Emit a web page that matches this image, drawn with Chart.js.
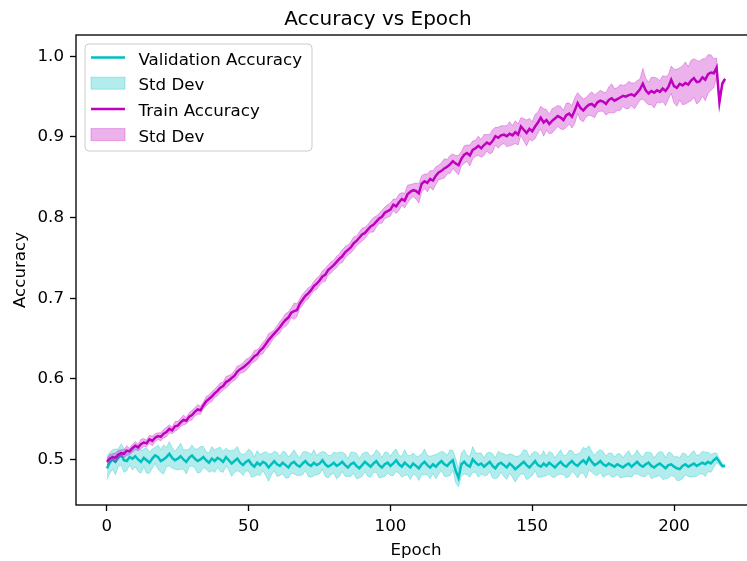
<!DOCTYPE html>
<html>
<head>
<meta charset="utf-8">
<script src="https://cdn.jsdelivr.net/npm/chart.js@4.4.1/dist/chart.umd.min.js"></script>
<style>
  html, body { margin: 0; padding: 0; background: #fff; }
  #wrap { width: 747px; height: 561px; overflow: hidden; position: relative; }
  canvas { display: block; }
</style>
</head>
<body>
<div id="wrap"><canvas id="c" width="832" height="561"></canvas></div>
<script>
// ---------- DATA ----------
const chartTitle = "Accuracy vs Epoch";
const xTitle = "Epoch";
const yTitle = "Accuracy";
const seriesLabels = ["Validation Accuracy", "Std Dev", "Train Accuracy", "Std Dev"];
const xTicks = [0, 50, 100, 150, 200];
const yTicks = [0.5, 0.6, 0.7, 0.8, 0.9, 1.0];

const valMean = [
  0.489,0.496,0.500,0.497,0.502,0.506,0.499,0.498,0.503,0.501,
  0.504,0.500,0.497,0.502,0.499,0.496,0.501,0.505,0.503,0.498,
  0.500,0.503,0.507,0.502,0.499,0.501,0.504,0.500,0.497,0.502,
  0.505,0.501,0.498,0.500,0.503,0.499,0.496,0.501,0.498,0.502,
  0.500,0.497,0.503,0.499,0.495,0.498,0.501,0.496,0.493,0.497,
  0.499,0.494,0.491,0.496,0.493,0.497,0.495,0.490,0.494,0.498,
  0.494,0.492,0.496,0.493,0.490,0.495,0.497,0.493,0.491,0.495,
  0.498,0.494,0.492,0.496,0.493,0.495,0.499,0.494,0.491,0.493,
  0.496,0.492,0.494,0.497,0.493,0.490,0.494,0.496,0.492,0.489,
  0.493,0.497,0.494,0.491,0.495,0.498,0.493,0.490,0.494,0.496,
  0.492,0.495,0.499,0.494,0.491,0.496,0.493,0.490,0.495,0.492,
  0.489,0.494,0.497,0.493,0.490,0.494,0.491,0.495,0.498,0.494,
  0.492,0.496,0.499,0.486,0.477,0.494,0.497,0.493,0.491,0.500,
  0.496,0.493,0.495,0.491,0.494,0.497,0.492,0.489,0.494,0.496,
  0.493,0.490,0.495,0.492,0.488,0.491,0.494,0.497,0.493,0.490,
  0.494,0.498,0.493,0.491,0.495,0.492,0.496,0.493,0.490,0.494,
  0.497,0.493,0.491,0.495,0.498,0.494,0.492,0.496,0.499,0.495,
  0.502,0.497,0.493,0.495,0.498,0.494,0.492,0.495,0.493,0.491,
  0.494,0.492,0.490,0.493,0.495,0.491,0.494,0.497,0.493,0.491,
  0.494,0.496,0.492,0.490,0.493,0.495,0.492,0.489,0.493,0.494,
  0.491,0.489,0.488,0.492,0.494,0.491,0.493,0.495,0.492,0.494,
  0.496,0.494,0.497,0.495,0.499,0.502,0.497,0.492,0.492
];
const valStd = [
  0.014,0.013,0.012,0.016,0.011,0.013,0.015,0.012,0.010,0.014,
  0.013,0.015,0.014,0.011,0.016,0.013,0.012,0.010,0.015,0.014,
  0.018,0.012,0.015,0.013,0.011,0.014,0.016,0.012,0.015,0.011,
  0.013,0.012,0.015,0.016,0.013,0.011,0.012,0.015,0.014,0.012,
  0.015,0.013,0.011,0.012,0.016,0.014,0.015,0.012,0.013,0.011,
  0.014,0.016,0.012,0.015,0.013,0.011,0.015,0.017,0.013,0.012,
  0.015,0.012,0.014,0.016,0.013,0.012,0.015,0.013,0.011,0.014,
  0.012,0.015,0.014,0.016,0.012,0.013,0.011,0.015,0.014,0.012,
  0.013,0.016,0.015,0.012,0.014,0.011,0.015,0.013,0.016,0.012,
  0.014,0.012,0.015,0.013,0.011,0.014,0.016,0.012,0.015,0.013,
  0.012,0.015,0.014,0.011,0.013,0.016,0.012,0.015,0.013,0.012,
  0.015,0.013,0.016,0.012,0.014,0.011,0.015,0.013,0.012,0.015,
  0.013,0.016,0.012,0.015,0.011,0.014,0.015,0.012,0.013,0.016,
  0.012,0.015,0.013,0.011,0.014,0.012,0.015,0.013,0.016,0.012,
  0.014,0.015,0.012,0.014,0.016,0.013,0.012,0.015,0.018,0.013,
  0.014,0.012,0.015,0.013,0.016,0.012,0.014,0.015,0.012,0.013,
  0.015,0.012,0.014,0.016,0.013,0.012,0.015,0.013,0.016,0.018,
  0.015,0.013,0.012,0.015,0.014,0.016,0.012,0.013,0.015,0.012,
  0.013,0.015,0.012,0.014,0.016,0.013,0.012,0.015,0.013,0.012,
  0.015,0.013,0.016,0.012,0.014,0.015,0.017,0.013,0.016,0.014,
  0.012,0.015,0.014,0.016,0.013,0.012,0.015,0.016,0.013,0.012,
  0.014,0.015,0.012,0.011,0.009,0.006,0.004,0.002,0.001
];
const trainMean = [
  0.497,0.501,0.503,0.502,0.506,0.508,0.507,0.511,0.510,0.514,
  0.517,0.515,0.519,0.521,0.520,0.525,0.523,0.527,0.529,0.528,
  0.532,0.534,0.538,0.536,0.541,0.542,0.546,0.549,0.548,0.553,
  0.555,0.559,0.562,0.561,0.567,0.572,0.575,0.578,0.582,0.585,
  0.589,0.591,0.596,0.598,0.601,0.604,0.609,0.612,0.614,0.617,
  0.620,0.624,0.628,0.630,0.635,0.638,0.643,0.648,0.652,0.656,
  0.660,0.664,0.669,0.673,0.676,0.682,0.684,0.685,0.693,0.698,
  0.703,0.706,0.710,0.715,0.718,0.722,0.727,0.729,0.735,0.738,
  0.741,0.745,0.749,0.752,0.757,0.760,0.763,0.768,0.771,0.775,
  0.779,0.781,0.785,0.789,0.791,0.795,0.799,0.801,0.806,0.808,
  0.810,0.816,0.814,0.819,0.823,0.821,0.829,0.832,0.834,0.833,
  0.830,0.842,0.845,0.843,0.848,0.846,0.852,0.856,0.858,0.861,
  0.863,0.866,0.870,0.867,0.865,0.873,0.878,0.880,0.877,0.884,
  0.886,0.889,0.886,0.890,0.893,0.891,0.895,0.901,0.899,0.902,
  0.903,0.901,0.904,0.902,0.906,0.903,0.913,0.909,0.905,0.910,
  0.907,0.913,0.918,0.924,0.918,0.921,0.916,0.920,0.923,0.926,
  0.924,0.921,0.927,0.929,0.925,0.933,0.942,0.936,0.933,0.937,
  0.940,0.941,0.938,0.943,0.945,0.944,0.941,0.946,0.948,0.945,
  0.947,0.949,0.951,0.950,0.952,0.953,0.951,0.955,0.959,0.966,
  0.958,0.954,0.957,0.955,0.958,0.956,0.960,0.957,0.962,0.971,
  0.963,0.961,0.966,0.964,0.967,0.965,0.970,0.973,0.968,0.969,
  0.974,0.971,0.978,0.980,0.979,0.986,0.943,0.966,0.972
];
const trainStd = [
  0.004,0.005,0.004,0.006,0.005,0.004,0.005,0.006,0.004,0.005,
  0.005,0.004,0.006,0.005,0.004,0.005,0.006,0.005,0.004,0.005,
  0.005,0.006,0.005,0.004,0.006,0.005,0.005,0.006,0.004,0.005,
  0.006,0.005,0.006,0.005,0.004,0.006,0.005,0.006,0.005,0.006,
  0.006,0.005,0.007,0.006,0.005,0.006,0.007,0.005,0.006,0.007,
  0.006,0.005,0.007,0.006,0.005,0.007,0.006,0.008,0.006,0.005,
  0.006,0.007,0.006,0.008,0.007,0.006,0.010,0.008,0.006,0.007,
  0.006,0.007,0.005,0.006,0.007,0.006,0.007,0.008,0.006,0.007,
  0.006,0.007,0.006,0.008,0.007,0.006,0.007,0.008,0.006,0.007,
  0.008,0.007,0.006,0.007,0.009,0.007,0.006,0.008,0.007,0.008,
  0.008,0.007,0.009,0.010,0.008,0.009,0.011,0.009,0.008,0.010,
  0.012,0.010,0.009,0.011,0.010,0.012,0.011,0.009,0.010,0.012,
  0.009,0.011,0.009,0.010,0.012,0.009,0.011,0.010,0.013,0.011,
  0.010,0.012,0.011,0.013,0.010,0.012,0.014,0.011,0.013,0.012,
  0.011,0.013,0.015,0.012,0.014,0.013,0.011,0.014,0.016,0.013,
  0.012,0.015,0.013,0.014,0.017,0.013,0.012,0.015,0.014,0.013,
  0.014,0.012,0.015,0.013,0.014,0.016,0.013,0.015,0.014,0.012,
  0.013,0.015,0.014,0.012,0.013,0.012,0.014,0.016,0.018,0.015,
  0.014,0.016,0.013,0.015,0.017,0.014,0.016,0.015,0.013,0.019,
  0.015,0.014,0.017,0.019,0.015,0.014,0.016,0.018,0.015,0.017,
  0.021,0.023,0.020,0.024,0.026,0.022,0.025,0.024,0.027,0.025,
  0.023,0.026,0.024,0.022,0.018,0.012,0.004,0.003,0.002
];

// ---------- BUILD ----------
const epochs = valMean.map((_, i) => i);
const pts = (arr) => arr.map((v, i) => ({ x: epochs[i], y: v }));
const add = (m, s, sign) => m.map((v, i) => v + sign * s[i]);

const CYAN = 'rgb(0,191,191)';
const CYAN_F = 'rgba(0,191,191,0.3)';
const MAG = 'rgb(191,0,191)';
const MAG_F = 'rgba(191,0,191,0.3)';
const FONT = 'DejaVu Sans';

const spinesPlugin = {
  id: 'spines',
  afterDatasetsDraw(chart) {
    const { ctx, chartArea: a } = chart;
    ctx.save();
    ctx.strokeStyle = '#000';
    ctx.lineWidth = 1.33;
    ctx.strokeRect(a.left, a.top, a.right - a.left, a.bottom - a.top);
    ctx.restore();
  }
};

const legendPlugin = {
  id: 'mplLegend',
  afterDraw(chart) {
    const ctx = chart.ctx;
    ctx.save();
    const x0 = 85, y0 = 44, w = 227, h = 107, r = 4;
    ctx.beginPath();
    ctx.moveTo(x0 + r, y0);
    ctx.arcTo(x0 + w, y0, x0 + w, y0 + h, r);
    ctx.arcTo(x0 + w, y0 + h, x0, y0 + h, r);
    ctx.arcTo(x0, y0 + h, x0, y0, r);
    ctx.arcTo(x0, y0, x0 + w, y0, r);
    ctx.closePath();
    ctx.fillStyle = 'rgba(255,255,255,0.8)';
    ctx.fill();
    ctx.strokeStyle = '#cccccc';
    ctx.lineWidth = 1;
    ctx.stroke();

    const items = [
      { kind: 'line', color: CYAN },
      { kind: 'patch', color: CYAN_F },
      { kind: 'line', color: MAG },
      { kind: 'patch', color: MAG_F }
    ];
    ctx.font = '16.67px "' + FONT + '"';
    ctx.textBaseline = 'alphabetic';
    ctx.textAlign = 'left';
    items.forEach((it, i) => {
      const base = 64.5 + i * 25.7;
      if (it.kind === 'line') {
        ctx.strokeStyle = it.color;
        ctx.lineWidth = 2.5;
        ctx.beginPath();
        ctx.moveTo(91, base - 7);
        ctx.lineTo(125, base - 7);
        ctx.stroke();
      } else {
        ctx.fillStyle = it.color;
        ctx.fillRect(91, base - 13, 34, 12);
        ctx.strokeStyle = it.color;
        ctx.lineWidth = 1;
        ctx.strokeRect(91, base - 13, 34, 12);
      }
      ctx.fillStyle = '#000';
      ctx.fillText(seriesLabels[i], 138.5, base);
    });
    ctx.restore();
  }
};

const lineDs = (label, data, color, order) => ({
  label, data, borderColor: color, backgroundColor: color, borderWidth: 2.5,
  pointRadius: 0, fill: false, tension: 0, order
});
const bandDs = (label, data, color, order, fill) => ({
  label, data, borderColor: color, backgroundColor: color, borderWidth: 1,
  pointRadius: 0, fill, tension: 0, order
});

new Chart(document.getElementById('c'), {
  type: 'line',
  data: {
    datasets: [
      lineDs(seriesLabels[0], pts(valMean), CYAN, 4),
      bandDs(seriesLabels[1], pts(add(valMean, valStd, 1)), CYAN_F, 3, false),
      bandDs(seriesLabels[1], pts(add(valMean, valStd, -1)), CYAN_F, 3, '-1'),
      lineDs(seriesLabels[2], pts(trainMean), MAG, 2),
      bandDs(seriesLabels[3], pts(add(trainMean, trainStd, 1)), MAG_F, 1, false),
      bandDs(seriesLabels[3], pts(add(trainMean, trainStd, -1)), MAG_F, 1, '-1')
    ]
  },
  options: {
    responsive: false,
    animation: false,
    devicePixelRatio: 1,
    layout: { padding: { left: 0, right: 76, top: 0, bottom: 0 } },
    plugins: {
      legend: { display: false },
      tooltip: { enabled: false },
      title: {
        display: true, text: chartTitle, color: '#000',
        font: { family: FONT, size: 20, weight: 'normal' },
        padding: { top: 8, bottom: 3 }
      }
    },
    scales: {
      x: {
        type: 'linear', min: -10.9, max: 228.9,
        afterBuildTicks: (s) => { s.ticks = xTicks.map(v => ({ value: v })); },
        afterFit: (s) => { s.height = 56; },
        grid: { display: true, drawOnChartArea: false, drawTicks: true, tickLength: 6, tickColor: '#000', tickWidth: 1.33 },
        border: { display: false },
        ticks: { color: '#000', font: { family: FONT, size: 16.67 }, padding: 6, maxRotation: 0,
                 callback: (v) => String(v) },
        title: { display: true, text: xTitle, color: '#000', font: { family: FONT, size: 16.67 }, padding: { top: 4, bottom: 0 } }
      },
      y: {
        type: 'linear', min: 0.4435, max: 1.0265,
        afterBuildTicks: (s) => { s.ticks = yTicks.map(v => ({ value: v })); },
        afterFit: (s) => { s.width = 76; },
        grid: { display: true, drawOnChartArea: false, drawTicks: true, tickLength: 6, tickColor: '#000', tickWidth: 1.33 },
        border: { display: false },
        ticks: { color: '#000', font: { family: FONT, size: 16.67 }, padding: 6,
                 callback: (v) => Number(v).toFixed(1) },
        title: { display: true, text: yTitle, color: '#000', font: { family: FONT, size: 16.67 }, padding: { top: 11, bottom: 0 } }
      }
    }
  },
  plugins: [spinesPlugin, legendPlugin]
});
</script>
</body>
</html>
